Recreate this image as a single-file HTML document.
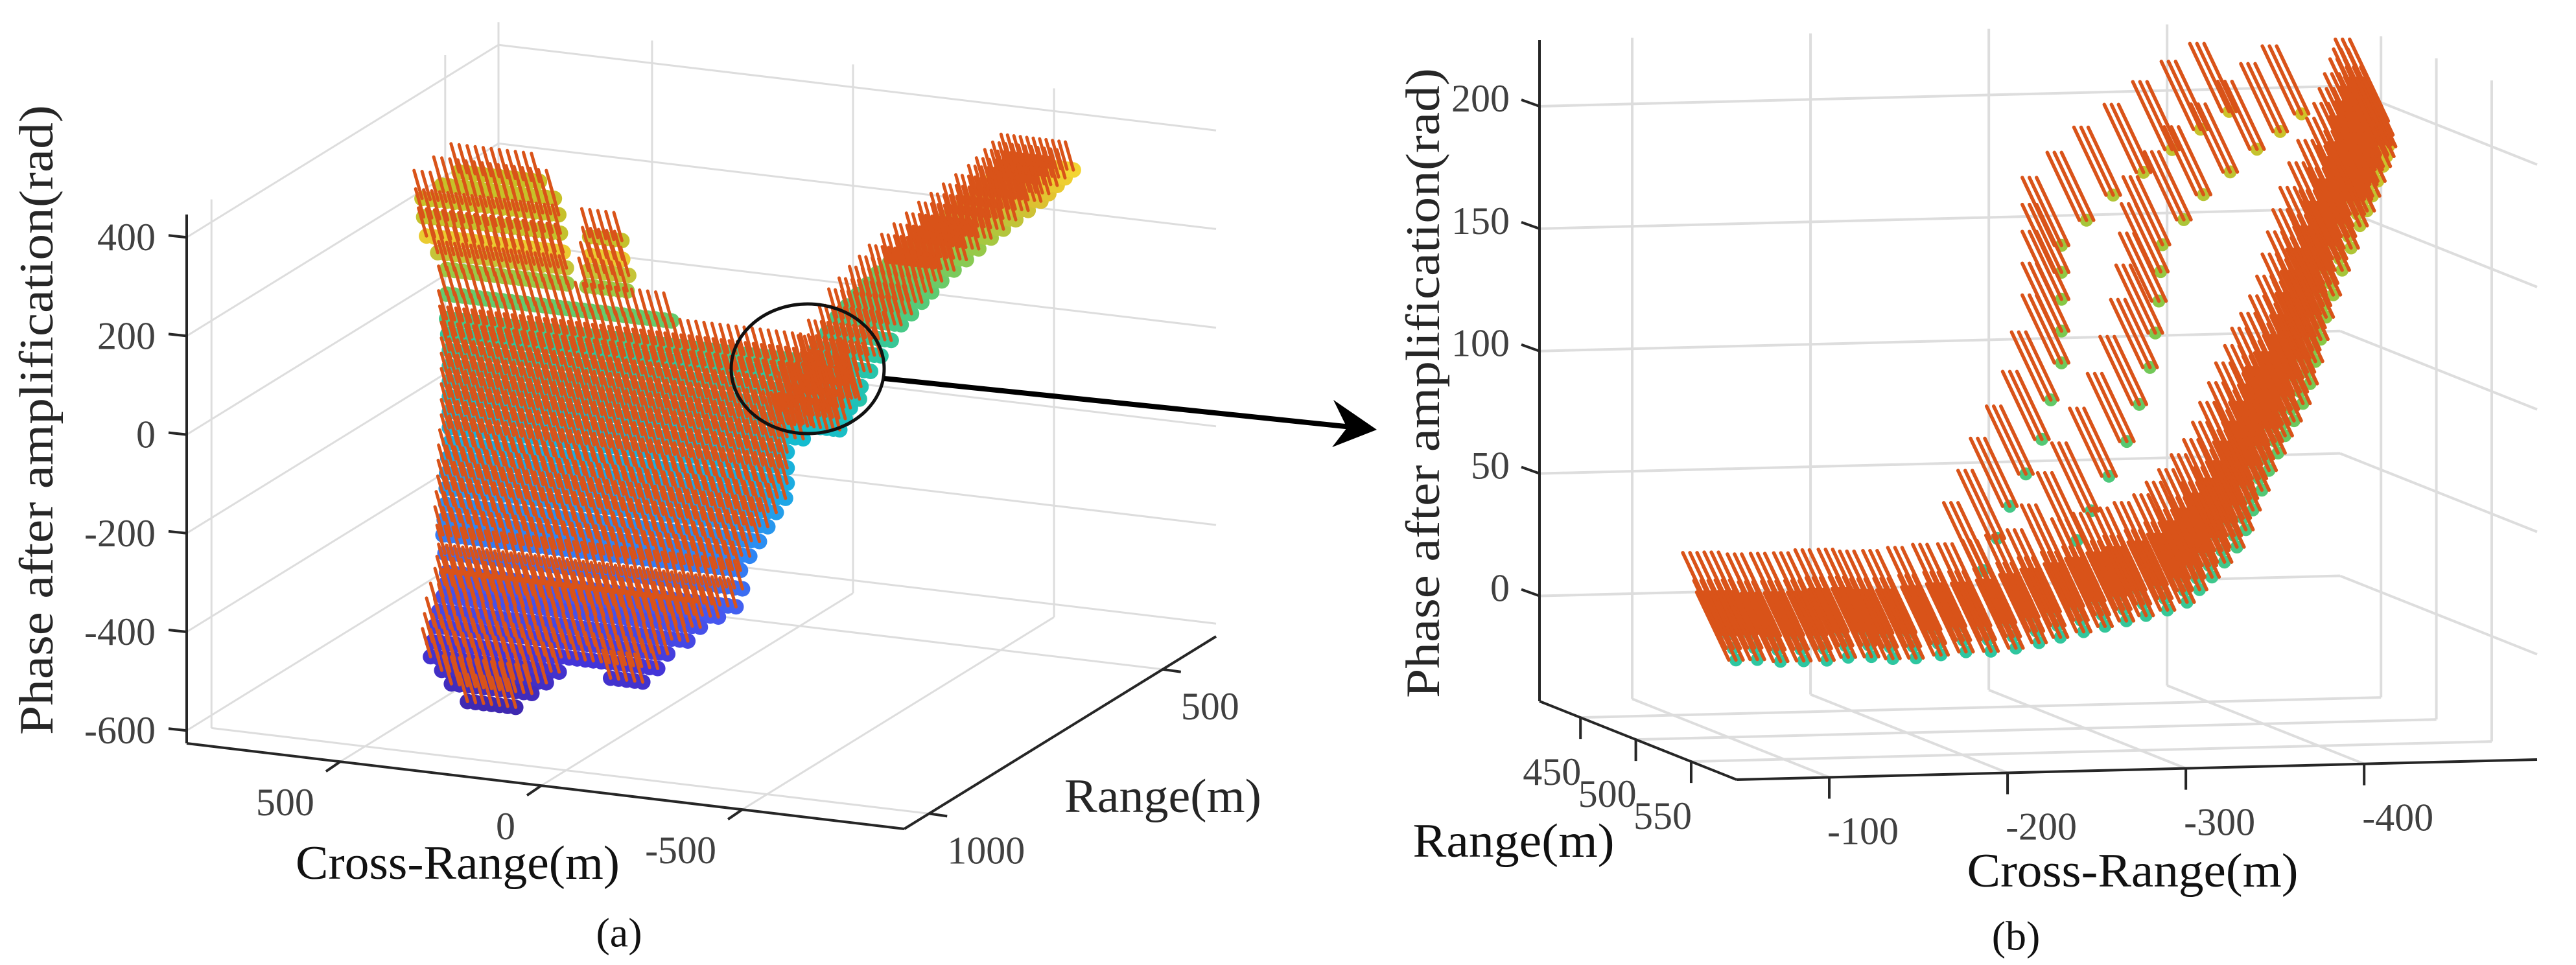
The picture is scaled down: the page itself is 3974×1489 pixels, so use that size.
<!DOCTYPE html>
<html><head><meta charset="utf-8"><title>Phase after amplification 3D quiver</title>
<style>
html,body{margin:0;padding:0;background:#fff;}
svg{display:block;}
text{font-family:"Liberation Serif","DejaVu Serif",serif;}
</style></head>
<body>
<svg id="chart" xmlns="http://www.w3.org/2000/svg" width="3974" height="1489" viewBox="0 0 3974 1489">
<rect x="0" y="0" width="3974" height="1489" fill="#fff"/>
<g id="lgrid"></g>
<g id="rgrid"></g>
<g id="ldata"></g>
<g id="rdata"></g>
<g id="laxes"></g>
<g id="raxes"></g>
<text x="57" y="648" transform="rotate(-90 57 648)" text-anchor="middle" dominant-baseline="central" font-size="74" fill="#262626" textLength="972" lengthAdjust="spacingAndGlyphs">Phase after amplification(rad)</text>
<text x="706" y="1332" text-anchor="middle" dominant-baseline="central" font-size="74" fill="#111" textLength="500" lengthAdjust="spacingAndGlyphs">Cross-Range(m)</text>
<text x="1794" y="1229" text-anchor="middle" dominant-baseline="central" font-size="74" fill="#262626" textLength="304" lengthAdjust="spacingAndGlyphs">Range(m)</text>
<text x="955" y="1439" text-anchor="middle" dominant-baseline="central" font-size="64" fill="#111">(a)</text>
<text x="2196" y="591" transform="rotate(-90 2196 591)" text-anchor="middle" dominant-baseline="central" font-size="74" fill="#262626" textLength="972" lengthAdjust="spacingAndGlyphs">Phase after amplification(rad)</text>
<text x="3290" y="1344" text-anchor="middle" dominant-baseline="central" font-size="74" fill="#111" textLength="511" lengthAdjust="spacingAndGlyphs">Cross-Range(m)</text>
<text x="2335" y="1298" text-anchor="middle" dominant-baseline="central" font-size="74" fill="#111" textLength="311" lengthAdjust="spacingAndGlyphs">Range(m)</text>
<text x="3110" y="1444" text-anchor="middle" dominant-baseline="central" font-size="64" fill="#111">(b)</text>
<ellipse cx="1246" cy="569" rx="118" ry="100" fill="none" stroke="#111" stroke-width="5"/>
<line x1="1364" y1="584" x2="2085" y2="659" stroke="#000" stroke-width="8"/>
<polygon points="2124,663 2057,617 2078,660 2055,690" fill="#000"/>
</svg>
<script>
// ---------------- LEFT PANEL DATA ----------------
const leftZTicks = [400, 200, 0, -200, -400, -600];
const leftZTickLabels = ["400", "200", "0", "-200", "-400", "-600"];
const leftCrossTicks = [500, 0, -500];
const leftCrossTickLabels = ["500", "0", "-500"];
const leftRangeTicks = [500, 1000];
const leftRangeTickLabels = ["500", "1000"];
const bodyRange = 853;
const bodyZ =      [459, 428, 396, 359, 359, 321, 321, 290, 290, 258, 258, 208, 158, 127, 95, 63, 32, 1, -30, -62, -93, -124, -155, -186, -218, -250, -281, -318, -356, -381, -406, -437, -468, -500, -531, -531, -556, -581, -613];
const bodyCrossL = [437, 480, 529, 525, 112, 518, 110, 490, 115, 468, 119, 468, 468, 465, 461, 461, 461, 461, 461, 461, 461, 465, 468, 469, 470, 474, 477, 472, 468, 472, 477, 488, 498, 503, 508, 60, 480, 456, 416];
const bodyCrossR = [232, 200, 171, 171, 14, 171, 18, 160, 12, 152, 8, -100, -543, -553, -563, -510, -453, -420, -390, -388, -385, -377, -369, -345, -320, -298, -277, -272, -268, -222, -176, -135, -94, -60, 171, -32, 212, 253, 293];
const armRange = [853, 836, 820, 803, 786, 770, 753, 736, 720, 703, 686, 670, 653, 636, 620, 603, 586, 570, 553, 536, 519, 503, 486, 470, 453];
const armCross = [-430, -424, -418, -411, -405, -410, -416, -422, -428, -434, -440, -446, -451, -462, -474, -485, -496, -508, -519, -530, -542, -543, -544, -545, -546];
const armZ =     [28, 40, 52, 63, 74, 96, 118, 140, 163, 176, 190, 202, 215, 228, 241, 254, 267, 277, 287, 297, 307, 313, 320, 326, 332];
const armHalfWidth = [80, 80, 80, 80, 80, 80, 80, 80, 80, 80, 80, 80, 80, 80, 80, 80, 80, 80, 80, 80, 80, 80, 80, 80, 80];
const leftQuiverDc = 20, leftQuiverDz = 55;

// ---------------- RIGHT PANEL DATA ----------------
const rightZTicks = [200, 150, 100, 50, 0];
const rightZTickLabels = ["200", "150", "100", "50", "0"];
const rightCrossTicks = [-100, -200, -300, -400];
const rightCrossTickLabels = ["-100", "-200", "-300", "-400"];
const rightRangeTicks = [450, 500, 550];
const rightRangeTickLabels = ["450", "500", "550"];
const curveCross = [-70,-82,-95,-108,-121,-133,-146,-158,-171,-185,-199,-213,-227,-240,-252,-265,-277,-289,-300,-312,-323,-330,-337,-344,-351,-356,-360,-365,-369,-374,-378,-383,-388,-392,-395,-398,-401,-405,-410,-415,-420,-424,-427,-430,-433,-435,-436];
const curveZ =     [-1,-1,-2,-2,-2,-1,-1,-2,-2,-1,0,0,1,3,5,7,9,11,13,15,18,23,28,34,40,47,55,63,71,78,85,91,98,106,115,124,133,142,152,161,170,176,182,188,194,198,202];
const curveRows =        [470, 500, 530, 555];
const curveRowCrossOff = [-45, -30, -14, 0];
const ridge1Range = 440;
const ridge1Cross = [-280,-288,-295,-304,-313,-318,-324,-324,-324,-324,-324,-338,-353,-370,-386,-402,-418];
const ridge1Z =     [11,24,37,50,64,80,95,108,121,132,143,153,163,172,181,189,196];
const ridge2Range = 470;
const ridge2Cross = [-305,-314,-322,-332,-342,-349,-355,-358,-360,-361,-362,-374,-385,-400,-415,-428,-440];
const ridge2Z =     [15,28,40,54,68,83,98,112,125,137,148,158,168,177,186,193,200];
const rightQuiverDc = 18, rightQuiverDz = 28;

// ---------------- AXES / PROJECTIONS ----------------
const L = {cMax: 882, cMin: -903, rMax: 1053, rMin: 386, zMin: -626, zMax: 446};
const R = {cStart: -48, cEnd: -497, rMin: 413, rMax: 591, zMin: -43, zMax: 227};
function LP(c, r, z) {
  const a = (L.cMax - c) / (L.cMax - L.cMin), b = (L.rMax - r) / (L.rMax - L.rMin);
  return [288 + 1107 * a + 481 * b, 1147 + 132 * a - 297 * b - (z - L.zMin) * 0.761];
}
function RP(c, r, z) {
  const u = (R.cStart - c) / (R.cStart - R.cEnd), v = (r - R.rMin) / (R.rMax - R.rMin);
  return [2375 + 1235 * u + 304 * v, 1082 - 31 * u + 121 * v - (z - R.zMin) * 3.778];
}
const NS = "http://www.w3.org/2000/svg";
function mk(tag, attrs, parent) {
  const e = document.createElementNS(NS, tag);
  for (const k in attrs) e.setAttribute(k, attrs[k]);
  parent.appendChild(e);
  return e;
}
function hex(h){return [parseInt(h.slice(1,3),16),parseInt(h.slice(3,5),16),parseInt(h.slice(5,7),16)];}
function cmap(stops, v) {
  if (v <= stops[0][0]) return stops[0][1];
  for (let i = 1; i < stops.length; i++) {
    if (v <= stops[i][0]) {
      const t = (v - stops[i-1][0]) / (stops[i][0] - stops[i-1][0]);
      const a = hex(stops[i-1][1]), b = hex(stops[i][1]);
      return "rgb(" + a.map((x, j) => Math.round(x + (b[j] - x) * t)).join(",") + ")";
    }
  }
  return stops[stops.length-1][1];
}
const leftStops = [[-640,"#3e26a8"],[-500,"#4435d8"],[-380,"#4657ef"],[-250,"#2f86f4"],[-120,"#1ea7e6"],[0,"#14bccf"],[120,"#2cc6a2"],[200,"#5ccb72"],[260,"#9cc944"],[310,"#e0c030"],[335,"#f6d832"],[350,"#c4c22e"],[460,"#c8c026"]];
const rightStops = [[-50,"#22c0a8"],[0,"#2ec6a0"],[60,"#50c878"],[120,"#86c846"],[170,"#b8c434"],[220,"#e0c020"]];
const ORANGE = "#d95319", GRID = "#dddddd", AX = "#262626", TXT = "#404040";

function gline(p, q, parent, color, w, name) {
  const e = mk("line", {x1: p[0], y1: p[1], x2: q[0], y2: q[1], stroke: color, "stroke-width": w}, parent);
  
  
  return e;
}
function label(x, y, s, anchor, parent, name) {
  const t = mk("text", {x: x, y: y, "text-anchor": anchor, "dominant-baseline": "central", "font-size": 60, fill: TXT}, parent);
  t.textContent = s;
  
  
}

// ---------- Left grid ----------
const lg = document.getElementById("lgrid");
leftZTicks.forEach(z => {
  gline(LP(L.cMax, L.rMax, z), LP(L.cMax, L.rMin, z), lg, GRID, 3, "left-wall-gridline");
  gline(LP(L.cMax, L.rMin, z), LP(L.cMin, L.rMin, z), lg, GRID, 3, "back-wall-gridline");
});
leftCrossTicks.forEach(c => {
  gline(LP(c, L.rMin, L.zMin), LP(c, L.rMin, L.zMax), lg, GRID, 3, "back-wall-vertical-gridline");
  gline(LP(c, L.rMax, L.zMin), LP(c, L.rMin, L.zMin), lg, GRID, 3, "floor-gridline");
});
leftRangeTicks.forEach(r => {
  gline(LP(L.cMax, r, L.zMin), LP(L.cMax, r, L.zMax), lg, GRID, 3, "left-wall-vertical-gridline");
  gline(LP(L.cMax, r, L.zMin), LP(L.cMin, r, L.zMin), lg, GRID, 3, "floor-gridline");
});
gline(LP(L.cMax, L.rMin, L.zMin), LP(L.cMax, L.rMin, L.zMax), lg, GRID, 3, "back-corner-edge");

// ---------- Right grid ----------
const rg = document.getElementById("rgrid");
rightZTicks.forEach(z => {
  gline(RP(R.cStart, R.rMin, z), RP(R.cEnd, R.rMin, z), rg, GRID, 4, "back-wall-gridline");
  gline(RP(R.cEnd, R.rMin, z), RP(R.cEnd, R.rMax, z), rg, GRID, 4, "right-wall-gridline");
});
rightCrossTicks.forEach(c => {
  gline(RP(c, R.rMin, R.zMin), RP(c, R.rMin, R.zMax), rg, GRID, 4, "back-wall-vertical-gridline");
  gline(RP(c, R.rMin, R.zMin), RP(c, R.rMax, R.zMin), rg, GRID, 4, "floor-gridline");
});
rightRangeTicks.forEach(r => {
  gline(RP(R.cEnd, r, R.zMin), RP(R.cEnd, r, R.zMax), rg, GRID, 4, "right-wall-vertical-gridline");
  gline(RP(R.cStart, r, R.zMin), RP(R.cEnd, r, R.zMin), rg, GRID, 4, "floor-gridline");
});

// ---------- Left data ----------
const ld = document.getElementById("ldata");
const ldots = mk("g", {}, ld);


const lq = mk("g", {stroke: ORANGE, "stroke-width": 5, "stroke-linecap": "round"}, ld);


const leftPts = [];
for (let i = 0; i < bodyZ.length; i++) {
  for (let c = bodyCrossL[i]; c >= bodyCrossR[i]; c -= 20) leftPts.push([c, bodyRange, bodyZ[i]]);
}
for (let i = 0; i < armRange.length; i++) {
  for (let c = armCross[i] + armHalfWidth[i]; c >= armCross[i] - armHalfWidth[i]; c -= 16) leftPts.push([c, armRange[i], armZ[i]]);
}
leftPts.forEach(p => {
  const s = LP(p[0], p[1], p[2]);
  const d = mk("circle", {cx: s[0].toFixed(1), cy: s[1].toFixed(1), r: 12, fill: cmap(leftStops, p[2])}, ldots);
  
  
});
leftPts.forEach(p => {
  const s = LP(p[0], p[1], p[2]);
  const e = LP(p[0] + leftQuiverDc, p[1], p[2] + leftQuiverDz);
  const q = mk("line", {x1: s[0].toFixed(1), y1: s[1].toFixed(1), x2: e[0].toFixed(1), y2: e[1].toFixed(1)}, lq);
  
  
});

// ---------- Right data ----------
const rd = document.getElementById("rdata");
const rdots = mk("g", {}, rd);


const rq = mk("g", {stroke: ORANGE, "stroke-width": 5.5, "stroke-linecap": "round"}, rd);


const rightPts = [];
for (let i = 0; i < ridge1Cross.length; i++) rightPts.push([ridge1Cross[i], ridge1Range, ridge1Z[i]]);
for (let i = 0; i < ridge2Cross.length; i++) rightPts.push([ridge2Cross[i], ridge2Range, ridge2Z[i]]);
curveRows.forEach((r, k) => {
  for (let i = 0; i < curveCross.length; i++) rightPts.push([curveCross[i] + curveRowCrossOff[k], r, curveZ[i]]);
});
rightPts.forEach(p => {
  const s = RP(p[0], p[1], p[2]);
  const d = mk("circle", {cx: s[0].toFixed(1), cy: s[1].toFixed(1), r: 10, fill: cmap(rightStops, p[2])}, rdots);
  
  
});
rightPts.forEach(p => {
  const s = RP(p[0], p[1], p[2]);
  const e = RP(p[0] + rightQuiverDc, p[1], p[2] + rightQuiverDz);
  for (let k = 0; k < 3; k++) {
    const off = (k - 1) * 11;
    const q = mk("line", {x1: (s[0] + off).toFixed(1), y1: s[1].toFixed(1), x2: (e[0] + off).toFixed(1), y2: e[1].toFixed(1)}, rq);
    
    
  }
});

// ---------- Left axes ----------
const la = document.getElementById("laxes");
gline([288, 331], LP(L.cMax, L.rMax, L.zMin), la, AX, 4, "left-z-axis-line");
gline(LP(L.cMax, L.rMax, L.zMin), LP(L.cMin, L.rMax, L.zMin), la, AX, 4, "left-cross-range-axis-line");
gline(LP(L.cMin, L.rMax, L.zMin), LP(L.cMin, L.rMin, L.zMin), la, AX, 4, "left-range-axis-line");
leftZTicks.forEach((z, i) => {
  const p = LP(L.cMax, L.rMax, z);
  gline(p, [p[0] - 28, p[1] - 3], la, AX, 4, "left-z-tick");
  label(240, p[1], leftZTickLabels[i], "end", la, "left-z-tick-label");
});
leftCrossTicks.forEach((c, i) => {
  const p = LP(c, L.rMax, L.zMin);
  gline(p, [p[0] - 22, p[1] + 15], la, AX, 4, "left-cross-tick");
  label(p[0] - 40, p[1] + 63, leftCrossTickLabels[i], "end", la, "left-cross-tick-label");
});
leftRangeTicks.forEach((r, i) => {
  const p = LP(L.cMin, r, L.zMin);
  gline(p, [p[0] + 28, p[1] + 4], la, AX, 4, "left-range-tick");
  label(p[0] + 28, p[1] + 57, leftRangeTickLabels[i], "start", la, "left-range-tick-label");
});

// ---------- Right axes ----------
const ra = document.getElementById("raxes");
gline(RP(R.cStart, R.rMin, R.zMax), RP(R.cStart, R.rMin, R.zMin), ra, AX, 4, "right-z-axis-line");
gline(RP(R.cStart, R.rMin, R.zMin), RP(R.cStart, R.rMax, R.zMin), ra, AX, 4, "right-range-axis-line");
gline(RP(R.cStart, R.rMax, R.zMin), RP(R.cEnd, R.rMax, R.zMin), ra, AX, 4, "right-cross-range-axis-line");
rightZTicks.forEach((z, i) => {
  const p = RP(R.cStart, R.rMin, z);
  gline(p, [p[0] - 28, p[1] - 10], ra, AX, 4, "right-z-tick");
  label(2329, p[1] - 12, rightZTickLabels[i], "end", ra, "right-z-tick-label");
});
rightRangeTicks.forEach((r, i) => {
  const p = RP(R.cStart, r, R.zMin);
  gline(p, [p[0], p[1] + 33], ra, AX, 4, "right-range-tick");
  label(p[0] - 44, p[1] + 84, rightRangeTickLabels[i], "middle", ra, "right-range-tick-label");
});
rightCrossTicks.forEach((c, i) => {
  const p = RP(c, R.rMax, R.zMin);
  gline(p, [p[0], p[1] + 33], ra, AX, 4, "right-cross-tick");
  label(p[0] + 52, p[1] + 83, rightCrossTickLabels[i], "middle", ra, "right-cross-tick-label");
});
</script>
</body></html>
